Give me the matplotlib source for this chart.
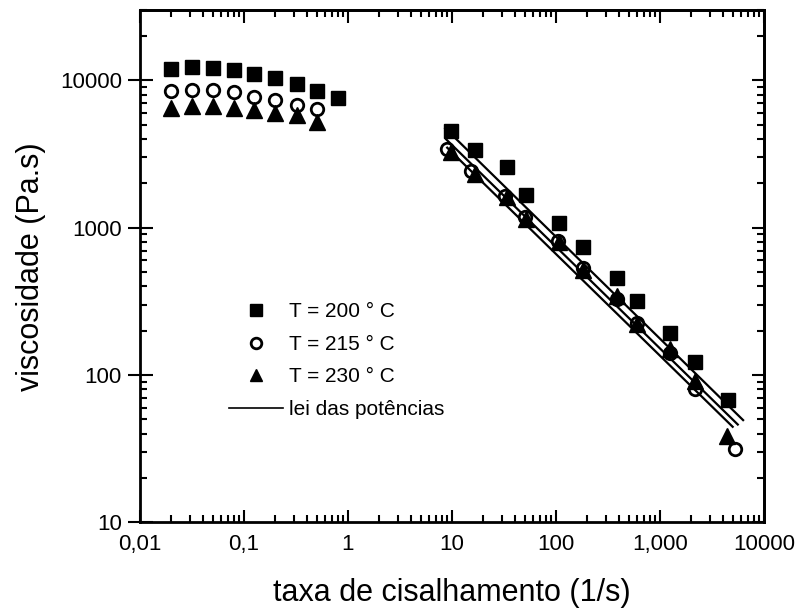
import numpy as np
import matplotlib.pyplot as plt
from matplotlib.ticker import FixedLocator, LogLocator, NullFormatter

plt.rcParams['font.family'] = ['Liberation Sans', 'DejaVu Sans']

# ---------------- dados ----------------
# região de baixa taxa (reômetro de placas)
x_low = [0.02, 0.032, 0.05, 0.08, 0.126, 0.2, 0.32, 0.5, 0.8]
eta200_low = [12000, 12300, 12200, 11760, 11100, 10400, 9500, 8460, 7580]
eta215_low = [8460, 8650, 8550, 8320, 7690, 7400, 6840, 6350]
eta230_low = [6520, 6660, 6660, 6490, 6250, 6030, 5780, 5180]

# região de alta taxa (reômetro capilar)
x200_high = [9.8, 16.6, 34, 51.5, 108, 183, 384, 597, 1250, 2170, 4540]
eta200_high = [4500, 3380, 2570, 1676, 1080, 734, 455, 318, 192, 122, 68]
x215_high = [9.0, 15.3, 32, 50, 105, 180, 384, 597, 1250, 2170, 5300]
eta215_high = [3430, 2440, 1650, 1175, 816, 537, 330, 227, 142, 80, 31.3]
x230_high = [9.8, 16.6, 34, 51.5, 108, 183, 384, 597, 1250, 2170, 4430]
eta230_high = [3250, 2320, 1610, 1150, 795, 515, 345, 223, 150, 91, 38.5]

# retas da lei das potências (extremos)
lp_x = [[8.6, 6300], [8.8, 5600], [9.0, 5000]]
lp_eta = [[4730, 49.5], [3975, 46.2], [3490, 44.6]]

xticks = [0.01, 0.1, 1, 10, 100, 1000, 10000]
xticklabels = ['0,01', '0,1', '1', '10', '100', '1,000', '10000']
yticks = [10, 100, 1000, 10000]
yticklabels = ['10', '100', '1000', '10000']


fig = plt.figure(figsize=(8.03, 6.16), dpi=100)
ax = fig.add_axes([0.1743, 0.1518, 0.7771, 0.832])
ax.set_xscale('log')
ax.set_yscale('log')

ms = 10
ax.plot(x_low, eta200_low, 's', color='k', ms=ms, label='T = 200 ° C')
ax.plot(x_low[:8], eta215_low, 'o', mfc='white', mec='k', mew=2, ms=ms-1, label='T = 215 ° C')
ax.plot(x_low[:8], eta230_low, '^', color='k', ms=ms+1, label='T = 230 ° C')

ax.plot(x200_high, eta200_high, 's', color='k', ms=ms)
ax.plot(x215_high, eta215_high, 'o', mfc='white', mec='k', mew=2, ms=ms-1)
ax.plot(x230_high, eta230_high, '^', color='k', ms=ms+1)

for xs, ys in zip(lp_x, lp_eta):
    ax.plot(xs, ys, '-', color='k', lw=1.6)

ax.plot([], [], '-', color='k', lw=1.2, label='lei das potências')

ax.set_xlim(0.01, 10000)
ax.set_ylim(10, 30000)


def set_ticks(a):
    a.xaxis.set_major_locator(FixedLocator(xticks))
    a.yaxis.set_major_locator(FixedLocator(yticks))
    a.xaxis.set_minor_locator(LogLocator(base=10, subs=np.arange(2, 10), numticks=20))
    a.yaxis.set_minor_locator(LogLocator(base=10, subs=np.arange(2, 10), numticks=20))
    a.xaxis.set_minor_formatter(NullFormatter())
    a.yaxis.set_minor_formatter(NullFormatter())


set_ticks(ax)
ax.set_xticklabels(xticklabels)
ax.set_yticklabels(yticklabels)

ax.tick_params(which='both', width=1.5, labelsize=16)
ax.tick_params(axis='x', which='major', direction='in', length=9, pad=8)
ax.tick_params(axis='y', which='major', direction='inout', length=18, pad=4)
ax.tick_params(which='minor', direction='in', length=5)
for s in ax.spines.values():
    s.set_linewidth(2)

# eixos espelhados (topo e direita) só com marcas para dentro
top = ax.secondary_xaxis('top')
right = ax.secondary_yaxis('right')
for a in (top, right):
    a.xaxis.set_major_locator(FixedLocator(xticks)) if a is top else a.yaxis.set_major_locator(FixedLocator(yticks))
top.xaxis.set_minor_locator(LogLocator(base=10, subs=np.arange(2, 10), numticks=20))
right.yaxis.set_minor_locator(LogLocator(base=10, subs=np.arange(2, 10), numticks=20))
top.tick_params(which='major', direction='in', length=9, width=1.5, labeltop=False)
top.tick_params(which='minor', direction='in', length=5, width=1.5, labeltop=False)
right.tick_params(which='major', direction='in', length=9, width=1.5, labelright=False)
right.tick_params(which='minor', direction='in', length=5, width=1.5, labelright=False)
top.spines['top'].set_linewidth(2)
right.spines['right'].set_linewidth(2)

ax.set_xlabel('taxa de cisalhamento (1/s)', fontsize=22, labelpad=17)
ax.set_ylabel('viscosidade (Pa.s)', fontsize=22, labelpad=10)

ax.legend(loc='upper left', bbox_to_anchor=(0.1256, 0.45), frameon=False,
          fontsize=15, handlelength=2.6, handletextpad=0.3, labelspacing=0.65,
          borderpad=0, markerscale=0.85)

fig.savefig('out.png', dpi=100)
